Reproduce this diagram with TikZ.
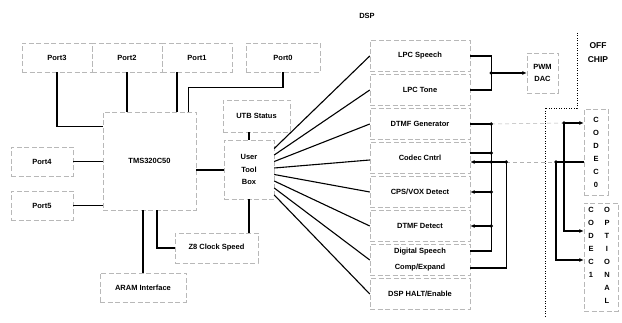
\documentclass[tikz,border=0pt]{standalone}
\usepackage{fontspec}
\setmainfont{Liberation Sans}
\usetikzlibrary{arrows.meta,calc}
\begin{document}
\begin{tikzpicture}[x=1pt,y=-1pt,
 box/.style={draw=black!28, dash pattern=on 5pt off 2.5pt, line width=0.45pt, inner sep=0pt, align=center, font=\fontsize{7.5}{9}\selectfont\bfseries},
 dspbox/.style={box, minimum width=100pt, minimum height=31pt},
 lbl/.style={inner sep=0pt, align=center, font=\fontsize{7.5}{9}\selectfont\bfseries},
 conn/.style={line width=1.1pt},
 arr/.style={conn, -{Latex[length=4.5pt,width=4pt]}},
 faint/.style={draw=black!30, dash pattern=on 4pt off 3pt, line width=0.5pt},
 offc/.style={line width=0.9pt, dash pattern=on 0.9pt off 1.6pt},
 dot/.style={circle, fill=black, inner sep=0pt, minimum size=3.6pt},
]
\useasboundingbox (0,0) rectangle (622,323);

% left side
\node[box, minimum width=70pt, minimum height=29pt] (port3) at (57,57.5) {Port3};
\node[box, minimum width=70pt, minimum height=29pt] (port2) at (127,57.5) {Port2};
\node[box, minimum width=70pt, minimum height=29pt] (port1) at (197,57.5) {Port1};
\node[box, minimum width=74pt, minimum height=29pt] (port0) at (283,57.5) {Port0};
\node[box, minimum width=62pt, minimum height=29pt] (port4) at (42,161.5) {Port4};
\node[box, minimum width=62pt, minimum height=29pt] (port5) at (42,205.5) {Port5};
\node[box, minimum width=93pt, minimum height=98pt] (tms) at (149.5,161) {TMS320C50};
\node[box, minimum width=67pt, minimum height=32pt] (utbs) at (256.5,116) {UTB Status};
\node[box, minimum width=50pt, minimum height=59pt, font=\fontsize{7.5}{12.5}\selectfont\bfseries] (utb) at (249,169.5) {User\\Tool\\Box};
\node[box, minimum width=83pt, minimum height=30pt] (z8) at (216.5,248) {Z8 Clock Speed};
\node[box, minimum width=86pt, minimum height=29pt] (aram) at (143,287.5) {ARAM Interface};

% DSP column
\node[lbl] (dsplbl) at (367,16) {DSP};
\node[dspbox] (speech) at (420,56) {LPC Speech};
\node[dspbox] (tone) at (420,90) {LPC Tone};
\node[dspbox] (dgen) at (420,124) {DTMF Generator};
\node[dspbox] (cc) at (420,158) {Codec Cntrl};
\node[dspbox] (vox) at (420,192) {CPS/VOX Detect};
\node[dspbox] (ddet) at (420,226) {DTMF Detect};
\node[dspbox, font=\fontsize{7.5}{16}\selectfont\bfseries] (dsc) at (420,260) {Digital Speech\\Comp/Expand};
\node[dspbox] (halt) at (420,294) {DSP HALT/Enable};

% off chip
\node[box, minimum width=31pt, minimum height=40pt, font=\fontsize{7.5}{12.5}\selectfont\bfseries] (pwm) at (542.5,73) {PWM\\DAC};
\node[lbl, font=\fontsize{8.5}{14}\selectfont\bfseries] (offchip) at (598,53) {OFF\\CHIP};
\node[box, minimum width=24pt, minimum height=86pt, font=\fontsize{7.5}{13}\selectfont\bfseries] (codec0) at (596,152) {C\\O\\D\\E\\C\\0};
\node[box, minimum width=34pt, minimum height=108pt] (codec1) at (601,257) {};
\node[lbl, anchor=north, font=\fontsize{7.5}{13}\selectfont\bfseries] (codec1t) at (591,207) {C\\O\\D\\E\\C\\1};
\node[lbl, anchor=north, font=\fontsize{7.5}{13}\selectfont\bfseries] (optt) at (607,207) {O\\P\\T\\I\\O\\N\\A\\L};

\draw[offc] (577,33) -- (577,108) -- (545,108) -- (545,318);

% left connectors
\draw[conn] (port3.south) |- ([yshift=-15pt]tms.north west);
\draw[conn] (port2.south) -- (port2.south |- tms.north);
\draw[conn] ([xshift=-20pt]port1.south) -- ([xshift=-20pt]port1.south |- tms.north);
\draw[conn] (port0.south) -- ++(0,15) -| ([xshift=-8pt]tms.north east);
\draw[conn] (port4.east) -- (port4.east -| tms.west);
\draw[conn] (port5.east) -- (port5.east -| tms.west);
\draw[conn] ([yshift=-9pt]tms.east) -- ([yshift=-9pt]tms.east -| utb.west);
\draw[conn] (utb.north) -- (utb.north |- utbs.south);
\draw[conn] (utb.south) -- (utb.south |- z8.north);
\draw[conn] (aram.north) -- (aram.north |- tms.south);
\draw[conn] ([xshift=7.5pt]tms.south) |- (z8.west);

% fan
\draw[conn] ([yshift=21pt]utb.east) -- (speech.west);
\draw[conn] ([yshift=14.5pt]utb.east) -- (tone.west);
\draw[conn] ([yshift=8pt]utb.east) -- (dgen.west);
\draw[conn] ([yshift=1.5pt]utb.east) -- ([yshift=-2pt]cc.west);
\draw[conn] ([yshift=-5pt]utb.east) -- (vox.west);
\draw[conn] ([yshift=-11.5pt]utb.east) -- (ddet.west);
\draw[conn] ([yshift=-18.5pt]utb.east) -- (dsc.west);
\draw[conn] ([yshift=-25.5pt]utb.east) -- (halt.west);

% PWM
\coordinate (jpwm) at ($(speech.east)!0.5!(tone.east)+(21,0)$);
\draw[conn] (speech.east) -| (jpwm) |- (tone.east);
\draw[arr] (jpwm) -- (jpwm -| pwm.west);

% buses
\coordinate (ba) at ([xshift=21pt]dgen.east);
\coordinate (bb) at ([xshift=36pt,yshift=-4pt]cc.east);
\coordinate (jc0) at (564,123);
\coordinate (jc1) at (556,162);
\draw[faint] (ba) -- (jc0);
\draw[faint] (bb) -- (jc1);
\draw[conn] (dgen.east) -- (ba);
\draw[conn] (ba) |- ([yshift=9pt]dsc.east);
\draw[conn] ([yshift=5pt]cc.east) -- ([yshift=5pt]cc.east -| ba);
\draw[arr] (bb) -- ([yshift=-4pt]cc.east);
\draw[conn] (bb) |- ([yshift=-8pt]dsc.east);
\draw[arr] (vox.east -| ba) -- (vox.east);
\draw[arr] (ddet.east -| ba) -- (ddet.east);
\draw[arr] (jc0) -- (jc0 -| codec0.west);
\draw[arr] (jc0) |- ([yshift=26pt]codec1.west);
\draw[conn] (jc1) -- (jc1 -| codec0.west);
\draw[arr] (jc1) |- ([yshift=-3pt]codec1.west);

% dots
\node[dot] (d1) at (jpwm) {};
\node[dot] (d2) at (ba) {};
\node[dot] (d3) at ([yshift=5pt]cc.east -| ba) {};
\node[dot] (d4) at (bb -| ba) {};
\node[dot] (d5) at (bb) {};
\node[dot] (d6) at (vox.east -| ba) {};
\node[dot] (d7) at (ddet.east -| ba) {};
\node[dot] (d8) at (jc0) {};
\node[dot] (d9) at (jc1) {};
\end{tikzpicture}
\end{document}
